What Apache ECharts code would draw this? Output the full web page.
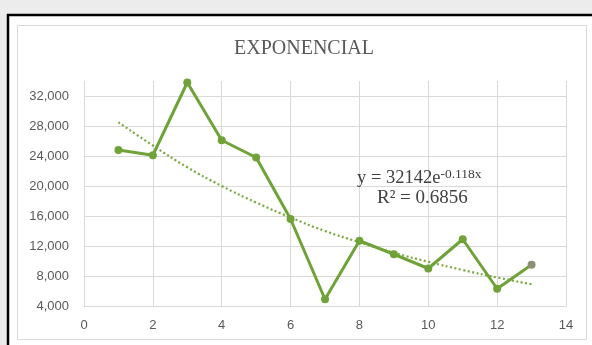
<!DOCTYPE html>
<html>
<head>
<meta charset="utf-8">
<script src="https://cdn.jsdelivr.net/npm/echarts@6/dist/echarts.min.js"></script>
<style>
html,body{margin:0;padding:0;background:#ececec;}
#c{width:592px;height:345px;}
</style>
</head>
<body>
<div id="c"></div>
<script>
// Data
const xValues = [1, 2, 3, 4, 5, 6, 7, 8, 9, 10, 11, 12, 13];
const observed = [24800, 24100, 33800, 26100, 23800, 15600, 4900, 12700, 10900, 9000, 12900, 6300, 9500];
const trendValues = [28500, 25400, 22500, 20000, 17800, 15800, 14000, 12500, 11100, 9900, 8800, 7800, 6900];
const yTicks = [4000, 8000, 12000, 16000, 20000, 24000, 28000, 32000];
const xTicks = [0, 2, 4, 6, 8, 10, 12, 14];
const titleText = 'EXPONENCIAL';
const equationMain = 'y = 32142e';
const equationExp = '-0.118x';
const rSquared = 'R\u00B2 = 0.6856';

const serif = 'Liberation Serif';
const mainFont = 18.5;
const supFont = 13.5;
const ctx = document.createElement('canvas').getContext('2d');
ctx.font = mainFont + 'px "' + serif + '"';
const mainWidth = ctx.measureText(equationMain).width;

const chart = echarts.init(document.getElementById('c'), null, {renderer: 'canvas'});

const obsData = xValues.map((x, i) => {
  const item = {value: [x, observed[i]]};
  if (i === xValues.length - 1) item.itemStyle = {color: '#8b9273'};
  return item;
});
const trendData = xValues.map((x, i) => [x, trendValues[i]]);

const eqLeft = 357;

chart.setOption({
  animation: false,
  backgroundColor: 'transparent',
  graphic: [
    {type: 'rect', shape: {x: 8, y: 15, width: 600, height: 340}, style: {fill: '#ffffff'}, z: -10, silent: true},
    {type: 'line', shape: {x1: 7, y1: 15, x2: 592, y2: 15}, style: {stroke: '#000', lineWidth: 2.5}, z: 10},
    {type: 'line', shape: {x1: 8, y1: 14, x2: 8, y2: 345}, style: {stroke: '#000', lineWidth: 2.5}, z: 10},
    {type: 'rect', shape: {x: 17.5, y: 25.5, width: 569, height: 314}, style: {fill: 'none', stroke: '#d9d9d9', lineWidth: 1}, z: 1},
    {type: 'text', x: 304, y: 38.5, z: 20,
      style: {text: titleText, fontFamily: serif, fontSize: 20, fill: '#595959', align: 'center', verticalAlign: 'top'}},
    {type: 'text', x: eqLeft, y: 168.5, z: 20,
      style: {text: equationMain, fontFamily: serif, fontSize: mainFont, fill: '#404040', verticalAlign: 'top'}},
    {type: 'text', x: eqLeft + mainWidth, y: 167, z: 20,
      style: {text: equationExp, fontFamily: serif, fontSize: supFont, fill: '#404040', verticalAlign: 'top'}},
    {type: 'text', x: 377, y: 188.5, z: 20,
      style: {text: rSquared, fontFamily: serif, fontSize: 19, fill: '#404040', verticalAlign: 'top'}}
  ],
  grid: {left: 84, right: 26, top: 81, bottom: 39},
  xAxis: {
    type: 'value', min: 0, max: 14, interval: 2,
    axisLine: {show: true, lineStyle: {color: '#d9d9d9'}},
    axisTick: {show: false},
    axisLabel: {color: '#595959', fontFamily: 'Liberation Sans', fontSize: 13, margin: 13,
      formatter: v => xTicks.includes(v) ? String(v) : ''},
    splitLine: {show: true, lineStyle: {color: '#d9d9d9', width: 1}}
  },
  yAxis: {
    type: 'value', min: 4000, max: 34000, interval: 4000,
    axisLine: {show: true, lineStyle: {color: '#d9d9d9'}},
    axisTick: {show: false},
    axisLabel: {color: '#595959', fontFamily: 'Liberation Sans', fontSize: 13, margin: 15,
      formatter: v => yTicks.includes(v) ? v.toLocaleString('en-US') : ''},
    splitLine: {show: true, lineStyle: {color: ['#d9d9d9','#d9d9d9','#d9d9d9','#d9d9d9','#d9d9d9','#d9d9d9','#d9d9d9','#d9d9d9','rgba(0,0,0,0)'], width: 1}}
  },
  series: [
    {
      name: 'trend', type: 'line', data: trendData, smooth: true,
      symbol: 'none', z: 3,
      lineStyle: {color: '#7aa940', width: 2.2, type: [2, 2.5]}
    },
    {
      name: 'observed', type: 'line', data: obsData,
      symbol: 'circle', symbolSize: 8, z: 4,
      lineStyle: {color: '#6fa238', width: 3},
      itemStyle: {color: '#6fa238'}
    }
  ]
});
</script>
</body>
</html>
